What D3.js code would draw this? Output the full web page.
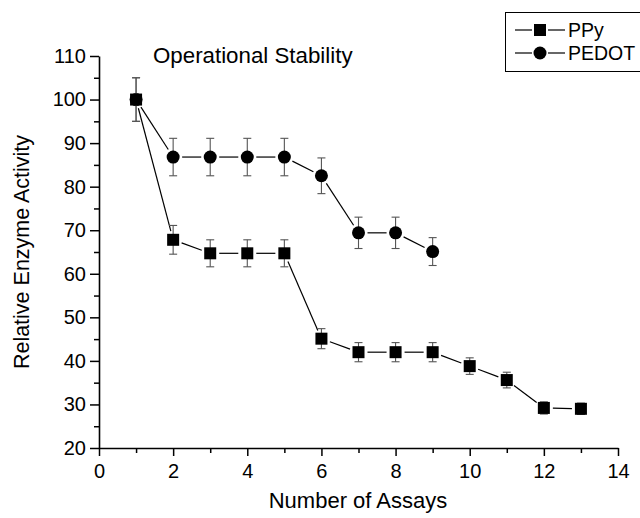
<!DOCTYPE html>
<html>
<head>
<meta charset="utf-8">
<script src="https://cdn.jsdelivr.net/npm/d3@7"></script>
<style>
	body { margin: 0; background: #fff; }
	svg { display: block; font-family: "Liberation Sans", Arial, sans-serif; }
</style>
</head>
<body>
<div id="chart"></div>
<script>
// values
const assaysPPy = [1, 2, 3, 4, 5, 6, 7, 8, 9, 10, 11, 12, 13];
const activityPPy = [100, 67.8, 64.7, 64.7, 64.7, 45.1, 42.0, 42.0, 42.0, 38.8, 35.6, 29.2, 29.0];
const errorPPy = [5, 3.3, 3.1, 3.1, 3.1, 2.3, 2.2, 2.2, 2.2, 1.9, 1.8, 1.4, 1.3];

const assaysPEDOT = [1, 2, 3, 4, 5, 6, 7, 8, 9];
const activityPEDOT = [100, 86.8, 86.8, 86.8, 86.8, 82.5, 69.4, 69.4, 65.1];
const errorPEDOT = [5, 4.3, 4.3, 4.3, 4.3, 4.1, 3.6, 3.6, 3.2];

const xTicks = [0, 2, 4, 6, 8, 10, 12, 14];
const xMinor = [1, 3, 5, 7, 9, 11, 13];
const yTicks = [20, 30, 40, 50, 60, 70, 80, 90, 100, 110];
const yMinor = [25, 35, 45, 55, 65, 75, 85, 95, 105];

const W = 640, H = 518;
const svg = d3.select('#chart').append('svg').attr('width', W).attr('height', H);

const x = d3.scaleLinear().domain([0, 14]).range([99, 618]);
const y = d3.scaleLinear().domain([20, 110]).range([448, 56]);

/* ---------- axes ---------- */
const gx = svg.append('g').attr('transform', `translate(0,${y(20)})`)
	.call(d3.axisBottom(x).tickValues(xTicks).tickSize(8).tickSizeOuter(0).tickPadding(4));
svg.append('g').attr('transform', `translate(0,${y(20)})`)
	.call(d3.axisBottom(x).tickValues(xMinor).tickSize(5).tickFormat('').tickSizeOuter(0))
	.select('.domain').remove();

const gy = svg.append('g').attr('transform', `translate(${x(0)},0)`)
	.call(d3.axisLeft(y).tickValues(yTicks).tickSize(9).tickSizeOuter(0).tickPadding(4));
svg.append('g').attr('transform', `translate(${x(0)},0)`)
	.call(d3.axisLeft(y).tickValues(yMinor).tickSize(5).tickFormat('').tickSizeOuter(0))
	.select('.domain').remove();

svg.selectAll('.domain').attr('stroke', '#000').attr('stroke-width', 1.6);
svg.selectAll('.tick line').attr('stroke', '#000').attr('stroke-width', 1.5);
svg.selectAll('.tick text').attr('fill', '#000').style('font-size', '20px');
gx.selectAll('.tick text').attr('dy', '0.9em');

svg.append('text').attr('x', 358).attr('y', 508).attr('text-anchor', 'middle')
	.style('font-size', '22px').text('Number of Assays');
svg.append('text').attr('transform', 'translate(29,252) rotate(-90)').attr('text-anchor', 'middle')
	.style('font-size', '21.5px').text('Relative Enzyme Activity');
svg.append('text').attr('x', 153).attr('y', 63)
	.style('font-size', '22.3px').text('Operational Stability');

/* ---------- series ---------- */
function drawSeries(xs, ys, errs, shape) {
	const pts = xs.map((d, i) => ({ px: x(d), py: y(ys[i]), lo: y(ys[i] - errs[i]), hi: y(ys[i] + errs[i]) }));
	const g = svg.append('g');
	const gap = 9;

	// connecting segments, stopped short of the markers
	for (let i = 0; i < pts.length - 1; i++) {
		const a = pts[i], b = pts[i + 1];
		const dx = b.px - a.px, dy = b.py - a.py;
		const len = Math.sqrt(dx * dx + dy * dy);
		if (len <= gap * 2) continue;
		const ux = dx / len, uy = dy / len;
		g.append('line')
			.attr('x1', a.px + ux * gap).attr('y1', a.py + uy * gap)
			.attr('x2', b.px - ux * gap).attr('y2', b.py - uy * gap)
			.attr('stroke', '#000').attr('stroke-width', 1.2);
	}

	// error bars
	const eb = g.selectAll('g.err').data(pts).join('g').attr('class', 'err')
		.attr('stroke', '#555').attr('stroke-width', 1.1);
	eb.append('line').attr('x1', d => d.px).attr('x2', d => d.px).attr('y1', d => d.lo).attr('y2', d => d.hi);
	eb.append('line').attr('x1', d => d.px - 4).attr('x2', d => d.px + 4).attr('y1', d => d.lo).attr('y2', d => d.lo);
	eb.append('line').attr('x1', d => d.px - 4).attr('x2', d => d.px + 4).attr('y1', d => d.hi).attr('y2', d => d.hi);

	// markers
	if (shape === 'square') {
		g.selectAll('rect.mk').data(pts).join('rect').attr('class', 'mk')
			.attr('x', d => d.px - 6).attr('y', d => d.py - 6)
			.attr('width', 12).attr('height', 12).attr('fill', '#000');
	} else {
		g.selectAll('circle.mk').data(pts).join('circle').attr('class', 'mk')
			.attr('cx', d => d.px).attr('cy', d => d.py).attr('r', 6.5).attr('fill', '#000');
	}
}

drawSeries(assaysPEDOT, activityPEDOT, errorPEDOT, 'circle');
drawSeries(assaysPPy, activityPPy, errorPPy, 'square');

/* ---------- legend ---------- */
const legend = svg.append('g');
legend.append('rect').attr('x', 505.5).attr('y', 12.5).attr('width', 140).attr('height', 59)
	.attr('fill', '#fff').attr('stroke', '#000').attr('stroke-width', 1);

const legendItems = [
	{ label: 'PPy', shape: 'square', cy: 30 },
	{ label: 'PEDOT', shape: 'circle', cy: 53 }
];
legendItems.forEach(it => {
	legend.append('line').attr('x1', 515).attr('x2', 532).attr('y1', it.cy).attr('y2', it.cy)
		.attr('stroke', '#000').attr('stroke-width', 1.2);
	legend.append('line').attr('x1', 548).attr('x2', 565).attr('y1', it.cy).attr('y2', it.cy)
		.attr('stroke', '#000').attr('stroke-width', 1.2);
	if (it.shape === 'square') {
		legend.append('rect').attr('x', 534).attr('y', it.cy - 6).attr('width', 12).attr('height', 12).attr('fill', '#000');
	} else {
		legend.append('circle').attr('cx', 540).attr('cy', it.cy).attr('r', 6.5).attr('fill', '#000');
	}
	legend.append('text').attr('x', 568).attr('y', it.cy + 7).style('font-size', '19.5px').text(it.label);
});
</script>
</body>
</html>
